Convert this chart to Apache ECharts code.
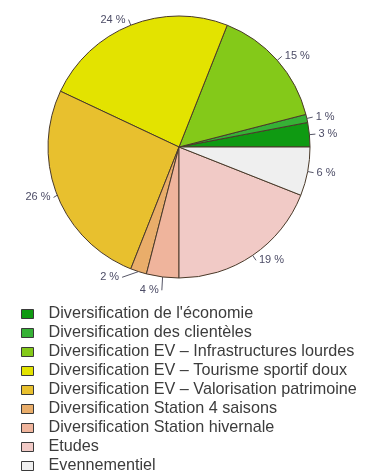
<!DOCTYPE html>
<html>
<head>
<meta charset="utf-8">
<script src="https://cdn.jsdelivr.net/npm/echarts@6/dist/echarts.min.js"></script>
<style>
  html, body { margin: 0; padding: 0; background: #ffffff; }
  #chart { width: 376px; height: 475px; }
</style>
</head>
<body>
<div id="chart"></div>
<script>
// Slices, in the order R draws them (counter-clockwise from 3 o'clock)
const categories = [
  "Diversification de l'économie",
  'Diversification des clientèles',
  'Diversification EV – Infrastructures lourdes',
  'Diversification EV – Tourisme sportif doux',
  'Diversification EV – Valorisation patrimoine',
  'Diversification Station 4 saisons',
  'Diversification Station hivernale',
  'Etudes',
  'Evennementiel'
]
const shares = [3, 1, 15, 24, 26, 2, 4, 19, 6]
const colors = [
  '#0f9a12', '#36b136', '#84c919', '#e3e300', '#e8c02e',
  '#e9ad6a', '#efb49c', '#f1cac6', '#efefef'
]

const chart = echarts.init(document.getElementById('chart'))

const option = {
  backgroundColor: '#ffffff',
  animation: false,
  textStyle: { fontFamily: 'Liberation Sans, Arial, sans-serif' },
  legend: {
    orient: 'vertical',
    left: 21,
    top: 306,
    height: 190,
    padding: 0,
    icon: 'rect',
    itemWidth: 12,
    itemHeight: 9,
    itemGap: 3,
    selectedMode: false,
    itemStyle: { borderColor: '#3a3a3a', borderWidth: 1 },
    textStyle: {
      color: '#3c3c3c',
      fontSize: 16.2,
      lineHeight: 16,
      padding: [0, 0, 0, 10]
    },
    data: categories
  },
  series: [
    {
      type: 'pie',
      center: [179, 147],
      radius: [0, 131],
      startAngle: 0,
      clockwise: false,
      avoidLabelOverlap: true,
      itemStyle: { borderColor: '#4a3a2a', borderWidth: 1 },
      emphasis: { disabled: true },
      label: {
        show: true,
        position: 'outside',
        formatter: '{c} %',
        color: '#4c4c66',
        fontSize: 11,
        distanceToLabelLine: 3
      },
      labelLine: {
        show: true,
        length: 6,
        length2: 0,
        lineStyle: { color: '#555566', width: 1 }
      },
      data: categories.map((name, i) => ({
        name: name,
        value: shares[i],
        itemStyle: { color: colors[i] }
      }))
    }
  ]
}

chart.setOption(option)
</script>
</body>
</html>
